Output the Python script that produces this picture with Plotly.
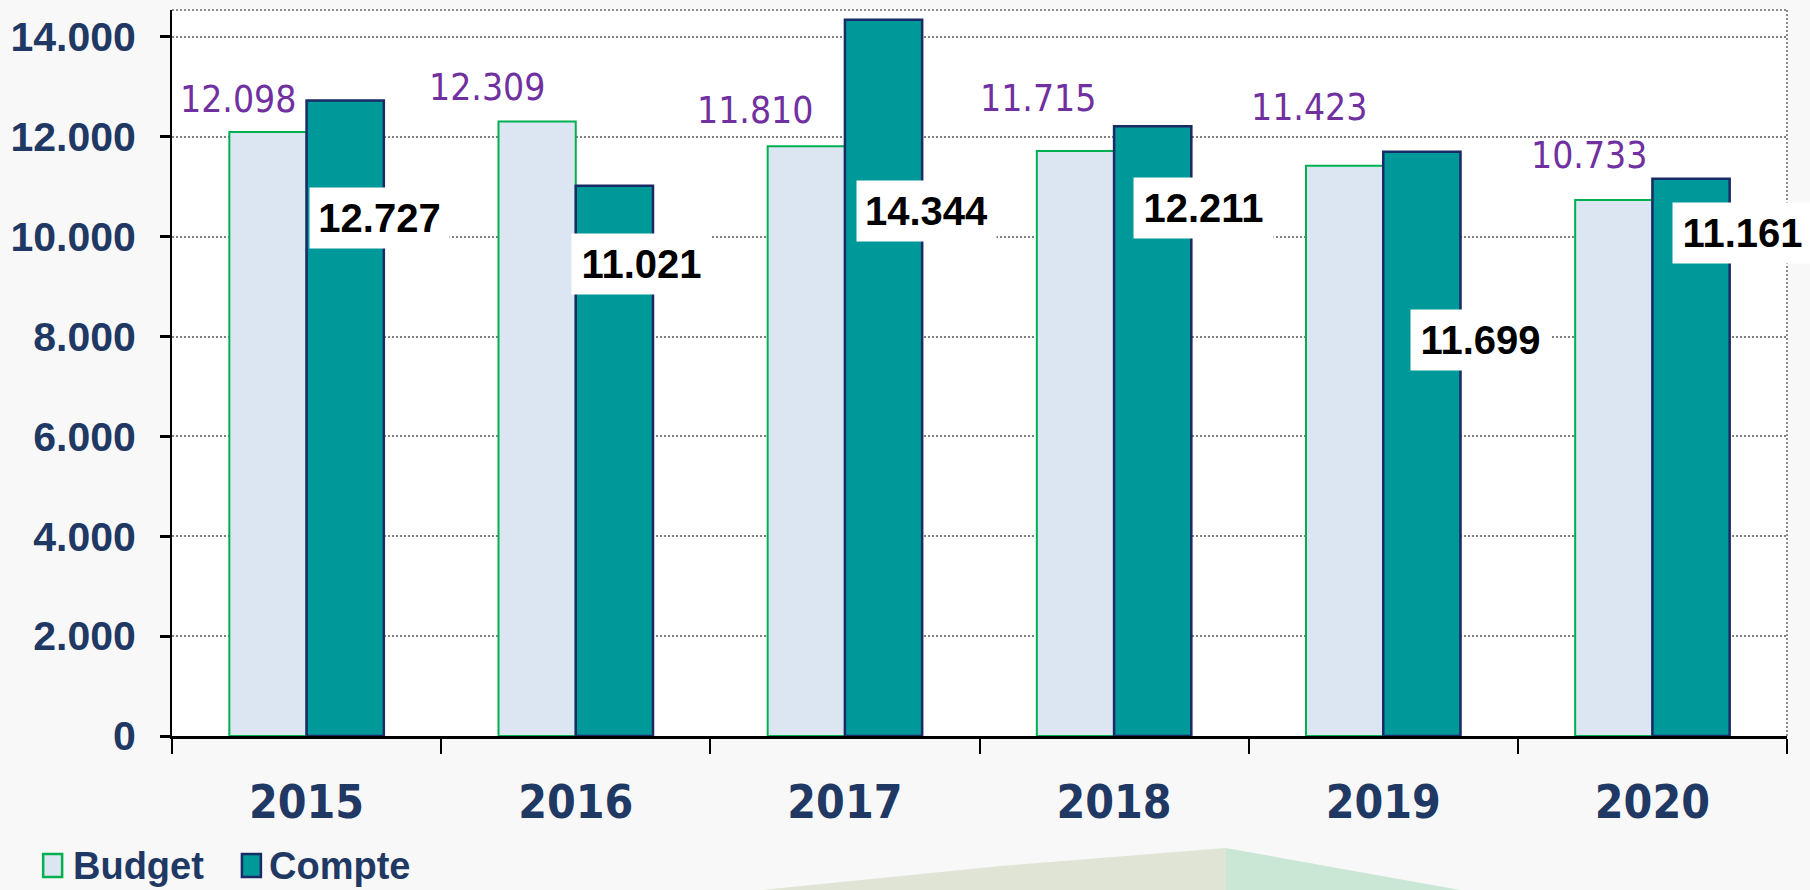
import plotly.graph_objects as go

years = ["2015", "2016", "2017", "2018", "2019", "2020"]
budget = [12098, 12309, 11810, 11715, 11423, 10733]
compte = [12727, 11021, 14344, 12211, 11699, 11161]
budget_labels = ["12.098", "12.309", "11.810", "11.715", "11.423", "10.733"]
compte_labels = ["12.727", "11.021", "14.344", "12.211", "11.699", "11.161"]
y_tickvals = [0, 2000, 4000, 6000, 8000, 10000, 12000, 14000]
y_ticktext = ["0", "2.000", "4.000", "6.000", "8.000", "10.000", "12.000", "14.000"]

# label placement (data-y of label centre, pixel shift from category centre)
budget_label_y = [12738, 12978, 12518, 12758, 12578, 11636]
budget_label_dx = [-69, -89, -90, -76, -74, -63]
compte_label_y = [10375, 9453, 10515, 10575, 7931, 10074]
compte_label_dx = [73, 66, 82, 89, 97, 90]

W, H = 1810, 890
L, R, T, B = 170, 23, 10, 154
PW, PH = W - L - R, H - T - B

def px(x):
    return (x - L) / PW

def py(y):
    return (H - B - y) / PH

NAVY = "#1F3864"
COND = "DejaVu Sans Condensed, DejaVu Sans, sans-serif"
ARIALB = "Liberation Sans, Arial, sans-serif"

fig = go.Figure()
fig.add_trace(go.Bar(x=years, y=budget, name="Budget",
                     marker=dict(color="#DCE6F2", line=dict(color="#00B050", width=2))))
fig.add_trace(go.Bar(x=years, y=compte, name="Compte",
                     marker=dict(color="#009999", line=dict(color="#1A2A66", width=2.5))))

ann = []
for i, yr in enumerate(years):
    ann.append(dict(x=i, y=budget_label_y[i], xref="x", yref="y", xshift=budget_label_dx[i],
                    text=budget_labels[i], showarrow=False,
                    font=dict(family=COND, size=37, color="#7030A0")))
    ann.append(dict(x=i, y=compte_label_y[i], xref="x", yref="y", xshift=compte_label_dx[i],
                    text="<b>" + compte_labels[i] + "</b>", showarrow=False, bgcolor="#FFFFFF",
                    borderpad=0, width=139, height=60,
                    font=dict(family=ARIALB, size=40, color="#000000")))

# manual legend
legend_items = [("Budget", "#DCE6F2", "#00B050", 41, 69), ("Compte", "#009999", "#1A2A66", 240, 265)]
shapes = []
for name, fill, line, bx, tx in legend_items:
    shapes.append(dict(type="rect", xref="paper", yref="paper", x0=px(bx), x1=px(bx + 19),
                       y0=py(877), y1=py(854), fillcolor=fill, line=dict(color=line, width=2.5)))
    ann.append(dict(x=px(tx), y=py(866), xref="paper", yref="paper", xanchor="left", yanchor="middle",
                    text="<b>" + name + "</b>", showarrow=False,
                    font=dict(family=ARIALB, size=38, color=NAVY)))

# decorative background swoosh
shapes.append(dict(type="path", xref="paper", yref="paper", layer="below",
                   path=f"M {px(760)},{py(890)} L {px(1000)},{py(866)} L {px(1225)},{py(848)} L {px(1225)},{py(890)} Z",
                   fillcolor="#D6DCC4", line=dict(width=0), opacity=0.7))
shapes.append(dict(type="path", xref="paper", yref="paper", layer="below",
                   path=f"M {px(1225)},{py(848)} L {px(1460)},{py(890)} L {px(1225)},{py(890)} Z",
                   fillcolor="#B6E0C8", line=dict(width=0), opacity=0.7))
# dotted top and right border
shapes.append(dict(type="line", xref="paper", yref="paper", x0=0, x1=1, y0=1, y1=1,
                   line=dict(color="#8C8C8C", width=2, dash="2px,2px")))
shapes.append(dict(type="line", xref="paper", yref="paper", x0=1, x1=1, y0=0, y1=1,
                   line=dict(color="#8C8C8C", width=2, dash="2px,2px")))

fig.update_layout(
    width=W, height=H,
    margin=dict(l=L, r=R, t=T, b=B),
    paper_bgcolor="#F8F8F8", plot_bgcolor="#FFFFFF",
    barmode="group", bargap=0.426, bargroupgap=0,
    showlegend=False,
    annotations=ann, shapes=shapes,
    xaxis=dict(type="category", range=[-0.5, len(years) - 0.5], autorange=False,
               tickson="boundaries", ticks="outside", ticklen=15, tickwidth=2,
               tickcolor="#000000", showline=True, linecolor="#000000", linewidth=3,
               tickfont=dict(family=COND, size=46, color=NAVY), ticklabelstandoff=24,
               tickprefix="<b>", ticksuffix="</b>", showgrid=False, tickangle=0),
    yaxis=dict(range=[0, 14540], autorange=False, tickvals=y_tickvals,
               ticktext=["<b>" + t + "</b>" for t in y_ticktext],
               ticks="outside", ticklen=10, tickwidth=3, tickcolor="#000000",
               showline=True, linecolor="#000000", linewidth=2,
               tickfont=dict(family=ARIALB, size=41, color=NAVY), ticklabelstandoff=16,
               showgrid=True, gridcolor="#808080", gridwidth=2, griddash="2px,2px",
               zeroline=False),
)

fig.write_html("out.html", config={"displayModeBar": False},
               post_script="document.body.style.margin='0';document.body.style.padding='0';")
